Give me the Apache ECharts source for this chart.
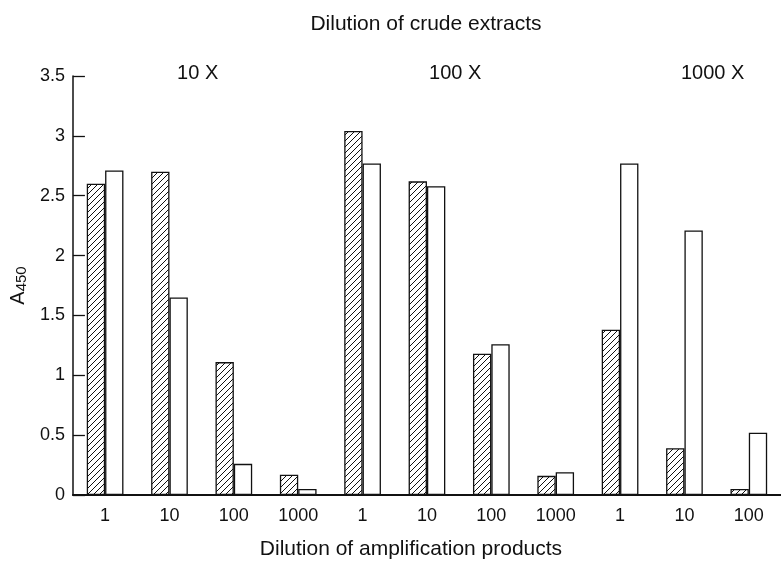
<!DOCTYPE html>
<html>
<head>
<meta charset="utf-8">
<script src="https://cdn.jsdelivr.net/npm/echarts@6/dist/echarts.min.js"></script>
<style>
  html, body { margin: 0; padding: 0; background: #fff; }
  #chart { width: 781px; height: 565px; }
</style>
</head>
<body>
<div id="chart"></div>
<script>
var categories = ['1', '10', '100', '1000', '1', '10', '100', '1000', '1', '10', '100'];
var hatched = [2.60, 2.70, 1.11, 0.17, 3.04, 2.62, 1.18, 0.16, 1.38, 0.39, 0.05];
var plain = [2.71, 1.65, 0.26, 0.05, 2.77, 2.58, 1.26, 0.19, 2.77, 2.21, 0.52];
var groupLabels = ['10 X', '100 X', '1000 X'];
var groupStarts = [0, 4, 8];

var font = '"Liberation Sans", Arial, sans-serif';

// diagonal hatch fill
var hatch = document.createElement('canvas');
hatch.width = 6;
hatch.height = 6;
var hc = hatch.getContext('2d');
hc.fillStyle = '#fff';
hc.fillRect(0, 0, 6, 6);
hc.strokeStyle = '#111';
hc.lineWidth = 1;
hc.beginPath();
hc.moveTo(-1, 7); hc.lineTo(7, -1);
hc.moveTo(-1, 1); hc.lineTo(1, -1);
hc.moveTo(5, 7); hc.lineTo(7, 5);
hc.stroke();

var chart = echarts.init(document.getElementById('chart'));
var option = {
    backgroundColor: '#fff',
    animation: false,
    textStyle: { fontFamily: font, color: '#111' },
    title: {
        text: 'Dilution of crude extracts',
        left: 421,
        textAlign: 'center',
        top: 9,
        textStyle: { fontFamily: font, fontSize: 21, fontWeight: 'normal', color: '#111' }
    },
    grid: { left: 72, top: 76, bottom: 69, right: -6 },
    xAxis: {
        type: 'category',
        data: categories,
        name: 'Dilution of amplification products',
        nameLocation: 'middle',
        nameGap: 44,
        nameTextStyle: { fontFamily: font, fontSize: 21, color: '#111', padding: [0, 32, 0, 0] },
        axisLine: { lineStyle: { color: '#111', width: 2 } },
        axisTick: { inside: true, length: 12, lineStyle: { color: '#111', width: 1.3 } },
        axisLabel: { fontFamily: font, fontSize: 18, color: '#111', margin: 12 },
        splitLine: { show: false }
    },
    yAxis: {
        type: 'value',
        min: 0,
        max: 3.5,
        interval: 0.5,
        name: 'A{sub|450}',
        nameLocation: 'middle',
        nameRotate: 90,
        nameGap: 40,
        nameTextStyle: {
            fontFamily: font, fontSize: 20, color: '#111',
            rich: { sub: { fontFamily: font, fontSize: 15, color: '#111', padding: [7, 0, 0, 0] } }
        },
        axisLine: { show: true, lineStyle: { color: '#111', width: 1.5 } },
        axisTick: { show: true, inside: true, length: 12, lineStyle: { color: '#111', width: 1.3 } },
        axisLabel: { fontFamily: font, fontSize: 18, color: '#111', margin: 8 },
        splitLine: { show: false }
    },
    series: [
        {
            type: 'bar',
            data: hatched,
            barGap: '0%',
            barCategoryGap: '43%',
            itemStyle: { color: { image: hatch, repeat: 'repeat' }, borderColor: '#111', borderWidth: 1.3 }
        },
        {
            type: 'bar',
            data: plain,
            itemStyle: { color: '#fff', borderColor: '#111', borderWidth: 1.3 }
        }
    ]
};
chart.setOption(option);

// group captions centred over each block of four categories
var p0 = chart.convertToPixel({ xAxisIndex: 0 }, 0);
var p1 = chart.convertToPixel({ xAxisIndex: 0 }, 1);
var step = p1 - p0;
var topY = chart.convertToPixel({ yAxisIndex: 0 }, 3.5);
chart.setOption({
    graphic: groupLabels.map(function (t, i) {
        var x = p0 + step * (groupStarts[i] + 1.5) - 4;
        return {
            type: 'text',
            x: x,
            y: topY - 3,
            style: {
                text: t, fontFamily: font, fontSize: 20, fill: '#111',
                textAlign: 'center', textVerticalAlign: 'middle'
            }
        };
    })
});
</script>
</body>
</html>
